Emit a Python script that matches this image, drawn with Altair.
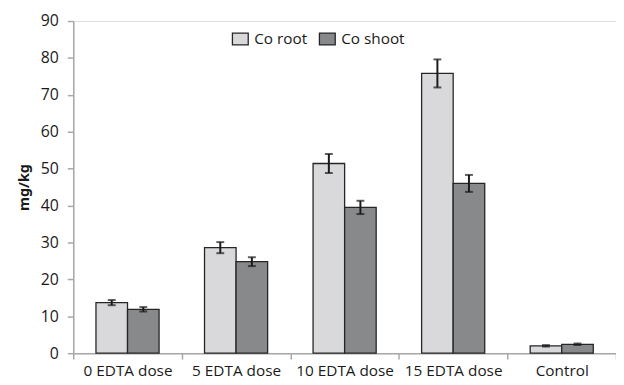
import altair as alt
import pandas as pd

categories = ["0 EDTA dose", "5 EDTA dose", "10 EDTA dose", "15 EDTA dose", "Control"]
series = ["Co root", "Co shoot"]
root_vals = [13.7, 28.6, 51.4, 75.8, 2.0]
root_err = [0.7, 1.5, 2.6, 3.8, 0.2]
shoot_vals = [11.9, 24.8, 39.5, 46.0, 2.4]
shoot_err = [0.6, 1.2, 1.8, 2.3, 0.2]
colors = ["#d9d9db", "#88898b"]

rows = []
for i, c in enumerate(categories):
    rows.append({"cat": c, "series": series[0], "v": root_vals[i], "lo": root_vals[i] - root_err[i], "hi": root_vals[i] + root_err[i]})
    rows.append({"cat": c, "series": series[1], "v": shoot_vals[i], "lo": shoot_vals[i] - shoot_err[i], "hi": shoot_vals[i] + shoot_err[i]})
df = pd.DataFrame(rows)

FONT = "Open Sans"

xaxis = alt.Axis(labelAngle=0, labelFontSize=15.5, labelColor="#1a1a1a", labelFont=FONT,
                 domainColor="#a8a8a8", tickColor="#a8a8a8", tickSize=6, labelOverlap=False,
                 bandPosition=0, tickBand="extent", labelPadding=5, domainWidth=1.5, tickWidth=1.5)
yaxis = alt.Axis(values=list(range(0, 91, 10)), grid=False, labelFontSize=16, labelFont=FONT,
                 labelColor="#1a1a1a", domainColor="#a8a8a8", tickColor="#a8a8a8", tickSize=6,
                 tickWidth=1.5, labelOverlap=False, labelFlush=False,
                 titleFont="Noto Sans", titleFontSize=14.5, titleFontWeight="bold", titleColor="#1a1a1a",
                 titlePadding=9, labelPadding=9, domainWidth=1.5)
xscale = alt.Scale(paddingInner=0, paddingOuter=0)
yscale = alt.Scale(domain=[0, 90], nice=False)

def X():
    return alt.X("cat:N", sort=categories, title=None, scale=xscale, axis=xaxis)

def XO():
    return alt.XOffset("series:N", sort=series, scale=alt.Scale(paddingInner=0, paddingOuter=0.72))

def Y(field):
    return alt.Y(field, scale=yscale, title="mg/kg", axis=yaxis)

bars = alt.Chart(df).mark_bar(stroke="#262626", strokeWidth=1.3).encode(
    x=X(), xOffset=XO(), y=Y("v:Q"),
    color=alt.Color("series:N", sort=series, scale=alt.Scale(domain=series, range=colors),
                    legend=alt.Legend(title=None, orient="none", legendX=160, legendY=9, direction="horizontal",
                                      symbolType="M-1,-0.75H1V0.75H-1Z", symbolSize=256,
                                      symbolStrokeColor="#262626", symbolStrokeWidth=1.3,
                                      labelFontSize=15.5, labelFont=FONT,
                                      labelColor="#1a1a1a", columnPadding=9, labelOffset=5)),
)

rule = alt.Chart(df).mark_rule(color="#1a1a1a", strokeWidth=2).encode(
    x=X(), xOffset=XO(), y=Y("lo:Q"), y2="hi:Q")
cap_lo = alt.Chart(df).mark_tick(color="#1a1a1a", thickness=2, size=8).encode(
    x=X(), xOffset=XO(), y=Y("lo:Q"))
cap_hi = alt.Chart(df).mark_tick(color="#1a1a1a", thickness=2, size=8).encode(
    x=X(), xOffset=XO(), y=Y("hi:Q"))

chart = alt.layer(bars, rule, cap_lo, cap_hi).properties(
    width=549, height=336,
    padding={"left": 66, "top": 11, "right": 0, "bottom": 30},
    autosize=alt.AutoSizeParams(type="none"),
).configure_view(stroke="#a8a8a8", strokeWidth=1.5).configure(background="white")

chart.save("out.html", embed_options={"renderer": "svg", "actions": False})
